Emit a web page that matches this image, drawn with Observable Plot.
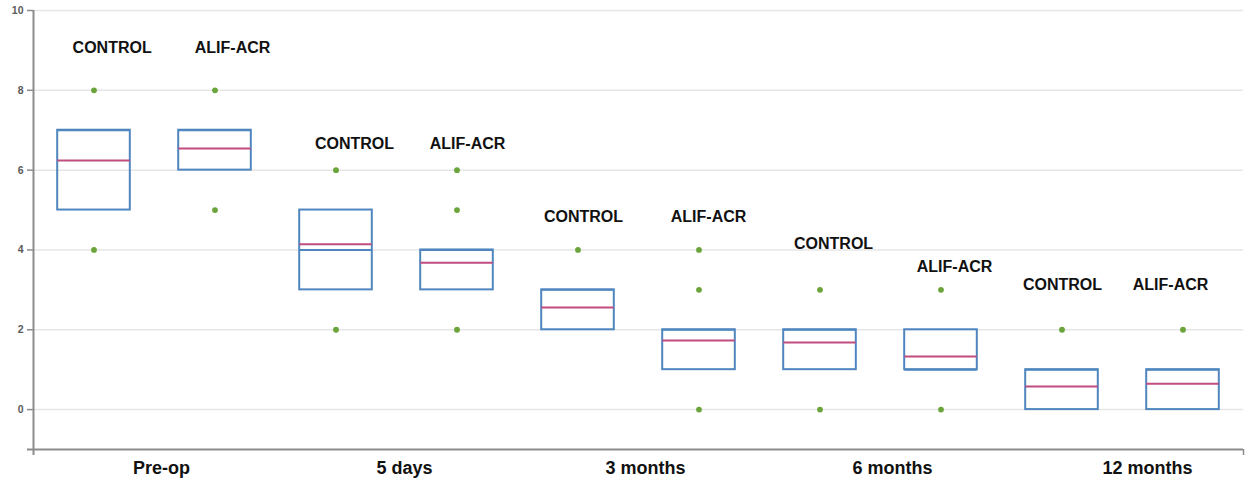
<!DOCTYPE html>
<html>
<head>
<meta charset="utf-8">
<script src="https://cdn.jsdelivr.net/npm/d3@7"></script>
<script src="https://cdn.jsdelivr.net/npm/@observablehq/plot@0.6"></script>
<style>
  html, body { margin: 0; padding: 0; background: #fff; }
  #chart svg { display: block; }
</style>
</head>
<body>
<div id="chart"></div>
<script>
// Time points and study arms
const groups = ["Pre-op", "5 days", "3 months", "6 months", "12 months"];
const arms = ["CONTROL", "ALIF-ACR"];

// One entry per box, ordered group by group, CONTROL then ALIF-ACR
const q1     = [5, 6, 3, 3, 2, 1, 1, 1, 0, 0];
const q3     = [7, 7, 5, 4, 3, 2, 2, 2, 1, 1];
const median = [7, 7, 4, 4, 3, 2, 2, 1, 1, 1];
const mean   = [6.24, 6.54, 4.14, 3.68, 2.56, 1.73, 1.68, 1.33, 0.58, 0.65];
const extremes = [[8, 4], [8, 5], [6, 2], [6, 5, 2], [4], [4, 3, 0], [3, 0], [3, 0], [2], [2]];

// Where each arm name sits (box index units / score units)
const armLabelX = [0.15, 1.145, 2.153, 3.087, 4.045, 5.079, 6.112, 7.112, 8.004, 8.897];
const armLabelY = [9.07, 9.07, 6.67, 6.67, 4.84, 4.84, 4.14, 3.58, 3.13, 3.13];
// Where each time point name sits along the axis (box index units)
const groupLabelX = [0.558, 2.566, 4.558, 6.599, 8.707];

const yTicks = [0, 2, 4, 6, 8, 10];

const boxes = q1.map((v, i) => ({
  i,
  group: groups[Math.floor(i / 2)],
  arm: arms[i % 2],
  q1: v, q3: q3[i], median: median[i], mean: mean[i],
  labelX: armLabelX[i], labelY: armLabelY[i]
}));
const dots = boxes.flatMap(b => extremes[b.i].map(v => ({i: b.i, value: v})));
const groupLabels = groups.map((g, k) => ({x: groupLabelX[k], label: g}));

const half = 0.3;
const blue = "#4f86bf";
const pink = "#c04c80";
const green = "#6aa43a";
const axisGray = "#8c8c8c";

const chart = Plot.plot({
  width: 1250,
  height: 481,
  marginLeft: 33,
  marginRight: 7,
  marginTop: 10,
  marginBottom: 32,
  style: {fontFamily: "'Liberation Sans', Arial, sans-serif", background: "#fff"},
  x: {type: "linear", domain: [-0.5, 9.5], axis: null},
  y: {type: "linear", domain: [-1, 10], axis: null},
  marks: [
    Plot.gridY(yTicks, {stroke: "#e6e6e6", strokeOpacity: 1, strokeWidth: 1.5}),
    // axes
    Plot.ruleY([-1], {x1: -0.55, x2: 9.5, stroke: axisGray, strokeWidth: 2}),
    Plot.ruleX([9.5], {y1: -1, y2: -1.15, stroke: axisGray, strokeWidth: 1.5}),
    Plot.ruleX([-0.5], {y1: -1.15, y2: 10, stroke: axisGray, strokeWidth: 2}),
    Plot.axisY(yTicks, {tickSize: 6, stroke: axisGray, strokeWidth: 1.5, tickPadding: 4, fontSize: 10.5, fontWeight: "bold", fill: "#5a5a5a", anchor: "left"}),
    // boxes
    Plot.rect(boxes, {x1: d => d.i - half, x2: d => d.i + half, y1: "q1", y2: "q3", fill: "none", stroke: blue, strokeWidth: 2}),
    Plot.ruleY(boxes, {x1: d => d.i - half, x2: d => d.i + half, y: "median", stroke: blue, strokeWidth: 2}),
    Plot.ruleY(boxes, {x1: d => d.i - half, x2: d => d.i + half, y: "mean", stroke: pink, strokeWidth: 2}),
    Plot.dot(dots, {x: "i", y: "value", r: 2.9, fill: green, stroke: "none"}),
    // arm labels above each box
    Plot.text(boxes, {x: "labelX", y: "labelY", text: "arm", fontSize: 16, fontWeight: "bold", fill: "#111", letterSpacing: "0.5px"}),
    // time point labels under the axis
    Plot.text(groupLabels, {x: "x", y: -1, text: "label", dy: 19, fontSize: 18, fontWeight: "bold", fill: "#111", letterSpacing: "0.4px"})
  ]
});

document.getElementById("chart").appendChild(chart);
</script>
</body>
</html>
